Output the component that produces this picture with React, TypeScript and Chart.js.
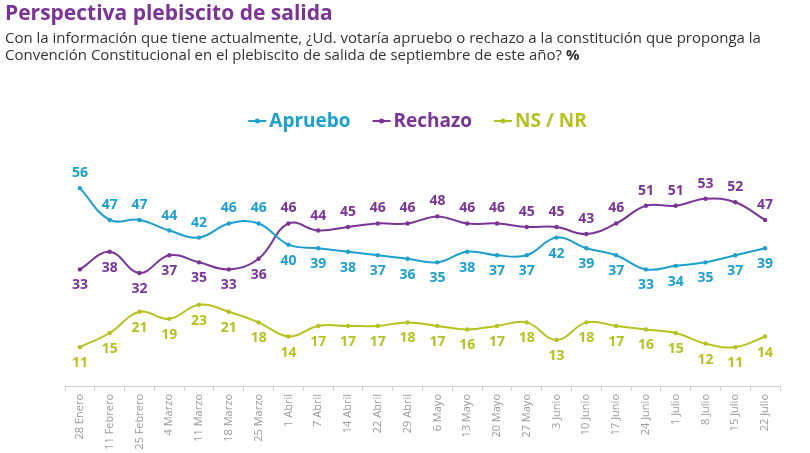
import React, { useEffect, useRef } from "react";
import { Chart, registerables } from "chart.js";

Chart.register(...registerables);

const categories = [
  "28 Enero", "11 Febrero", "25 Febrero", "4 Marzo", "11 Marzo", "18 Marzo",
  "25 Marzo", "1 Abril", "7 Abril", "14 Abril", "22 Abril", "29 Abril",
  "6 Mayo", "13 Mayo", "20 Mayo", "27 Mayo", "3 Junio", "10 Junio",
  "17 Junio", "24 Junio", "1 Julio", "8 Julio", "15 Julio", "22 Julio",
];
const apruebo = [56, 47, 47, 44, 42, 46, 46, 40, 39, 38, 37, 36, 35, 38, 37, 37, 42, 39, 37, 33, 34, 35, 37, 39];
const rechazo = [33, 38, 32, 37, 35, 33, 36, 46, 44, 45, 46, 46, 48, 46, 46, 45, 45, 43, 46, 51, 51, 53, 52, 47];
const nsnr = [11, 15, 21, 19, 23, 21, 18, 14, 17, 17, 17, 18, 17, 16, 17, 18, 13, 18, 17, 16, 15, 12, 11, 14];

const C_APR = "#1d9fcf";
const C_REC = "#7a3495";
const C_NS = "#b5c21f";
const FONT = "'Open Sans', 'DejaVu Sans', sans-serif";

const labelPlugin = {
  id: "valueLabels",
  afterDatasetsDraw(chart: any) {
    const ctx = chart.ctx;
    ctx.save();
    ctx.font = `bold 14px ${FONT}`;
    ctx.textAlign = "center";
    ctx.textBaseline = "middle";
    chart.data.datasets.forEach((ds: any, i: number) => {
      const meta = chart.getDatasetMeta(i);
      ctx.fillStyle = ds.borderColor;
      meta.data.forEach((pt: any, j: number) => {
        const v = ds.data[j];
        let above = false;
        if (ds.compareWith !== undefined) {
          const other = chart.data.datasets[ds.compareWith].data[j];
          above = v > other;
        }
        const y = above ? pt.y - 15 : pt.y + 16;
        ctx.fillText(String(v), pt.x, y);
      });
    });
    ctx.restore();
  },
};

const legendPlugin = {
  id: "customLegend",
  afterDraw(chart: any) {
    const ctx = chart.ctx;
    ctx.save();
    ctx.font = `bold 19px ${FONT}`;
    ctx.textBaseline = "middle";
    const marker = 18;
    const gapMT = 3;
    const gapItems = 22;
    const items = chart.data.datasets.map((ds: any) => ({
      label: ds.label,
      color: ds.borderColor,
      w: marker + gapMT + ctx.measureText(ds.label).width,
    }));
    const total = items.reduce((a: number, it: any) => a + it.w, 0) + gapItems * (items.length - 1);
    const cx = (chart.chartArea.left + chart.chartArea.right) / 2 - 5;
    let x = cx - total / 2;
    const y = 121;
    items.forEach((it: any) => {
      ctx.strokeStyle = it.color;
      ctx.fillStyle = it.color;
      ctx.lineWidth = 2;
      ctx.beginPath();
      ctx.moveTo(x, y);
      ctx.lineTo(x + marker, y);
      ctx.stroke();
      ctx.beginPath();
      ctx.arc(x + marker / 2, y, 2.5, 0, Math.PI * 2);
      ctx.fill();
      ctx.textAlign = "left";
      ctx.fillText(it.label, x + marker + gapMT, y + 1);
      x += it.w + gapItems;
    });
    ctx.restore();
  },
};

function LineChart() {
  const ref = useRef<HTMLCanvasElement | null>(null);
  useEffect(() => {
    if (!ref.current) return;
    const mk = (label: string, data: number[], color: string, compareWith?: number) => ({
      label,
      data,
      borderColor: color,
      backgroundColor: color,
      borderWidth: 2,
      pointRadius: 2.2,
      pointBackgroundColor: color,
      pointBorderWidth: 0,
      tension: 0.4,
      compareWith,
    });
    const chart = new Chart(ref.current, {
      type: "line",
      data: {
        labels: categories,
        datasets: [
          mk("Apruebo", apruebo, C_APR, 1),
          mk("Rechazo", rechazo, C_REC, 0),
          mk("NS / NR", nsnr, C_NS),
        ] as any,
      },
      options: {
        animation: false,
        responsive: false,
        maintainAspectRatio: false,
        layout: { padding: { top: 174, left: 65, right: 30, bottom: 0 } },
        plugins: {
          legend: { display: false },
          tooltip: { enabled: false },
        },
        scales: {
          y: { display: false, min: 0, max: 60 },
          x: {
            offset: true,
            afterFit: (s: any) => { s.height = 67; },
            border: { display: true, color: "#cfcfcf", width: 1 },
            grid: {
              display: true,
              drawOnChartArea: false,
              drawTicks: true,
              tickLength: 5,
              color: "#cfcfcf",
              offset: true,
            },
            ticks: {
              autoSkip: false,
              maxRotation: 90,
              minRotation: 90,
              padding: 3,
              color: "#9a9a9a",
              font: { family: FONT, size: 11 },
            },
          },
        },
      },
      plugins: [labelPlugin, legendPlugin],
    } as any);
    return () => chart.destroy();
  }, []);
  return <canvas ref={ref} width={810} height={453} style={{ position: "absolute", left: 0, top: 0 }} />;
}

export default function App() {
  return (
    <div style={{ position: "absolute", left: 0, top: 0, width: 810, height: 453, background: "#fff", overflow: "hidden" }}>
      <LineChart />
      <div style={{ position: "absolute", left: 5, top: -1, fontFamily: FONT, fontWeight: 700, fontSize: 21, color: "#7b3395", whiteSpace: "nowrap", lineHeight: "26px" }}>
        Perspectiva plebiscito de salida
      </div>
      <div style={{ position: "absolute", left: 5, top: 29, fontFamily: FONT, fontSize: 15, color: "#333", lineHeight: "17px", whiteSpace: "nowrap" }}>
        Con la información que tiene actualmente, ¿Ud. votaría apruebo o rechazo a la constitución que proponga la
        <br />
        Convención Constitucional en el plebiscito de salida de septiembre de este año? <b>%</b>
      </div>
    </div>
  );
}
